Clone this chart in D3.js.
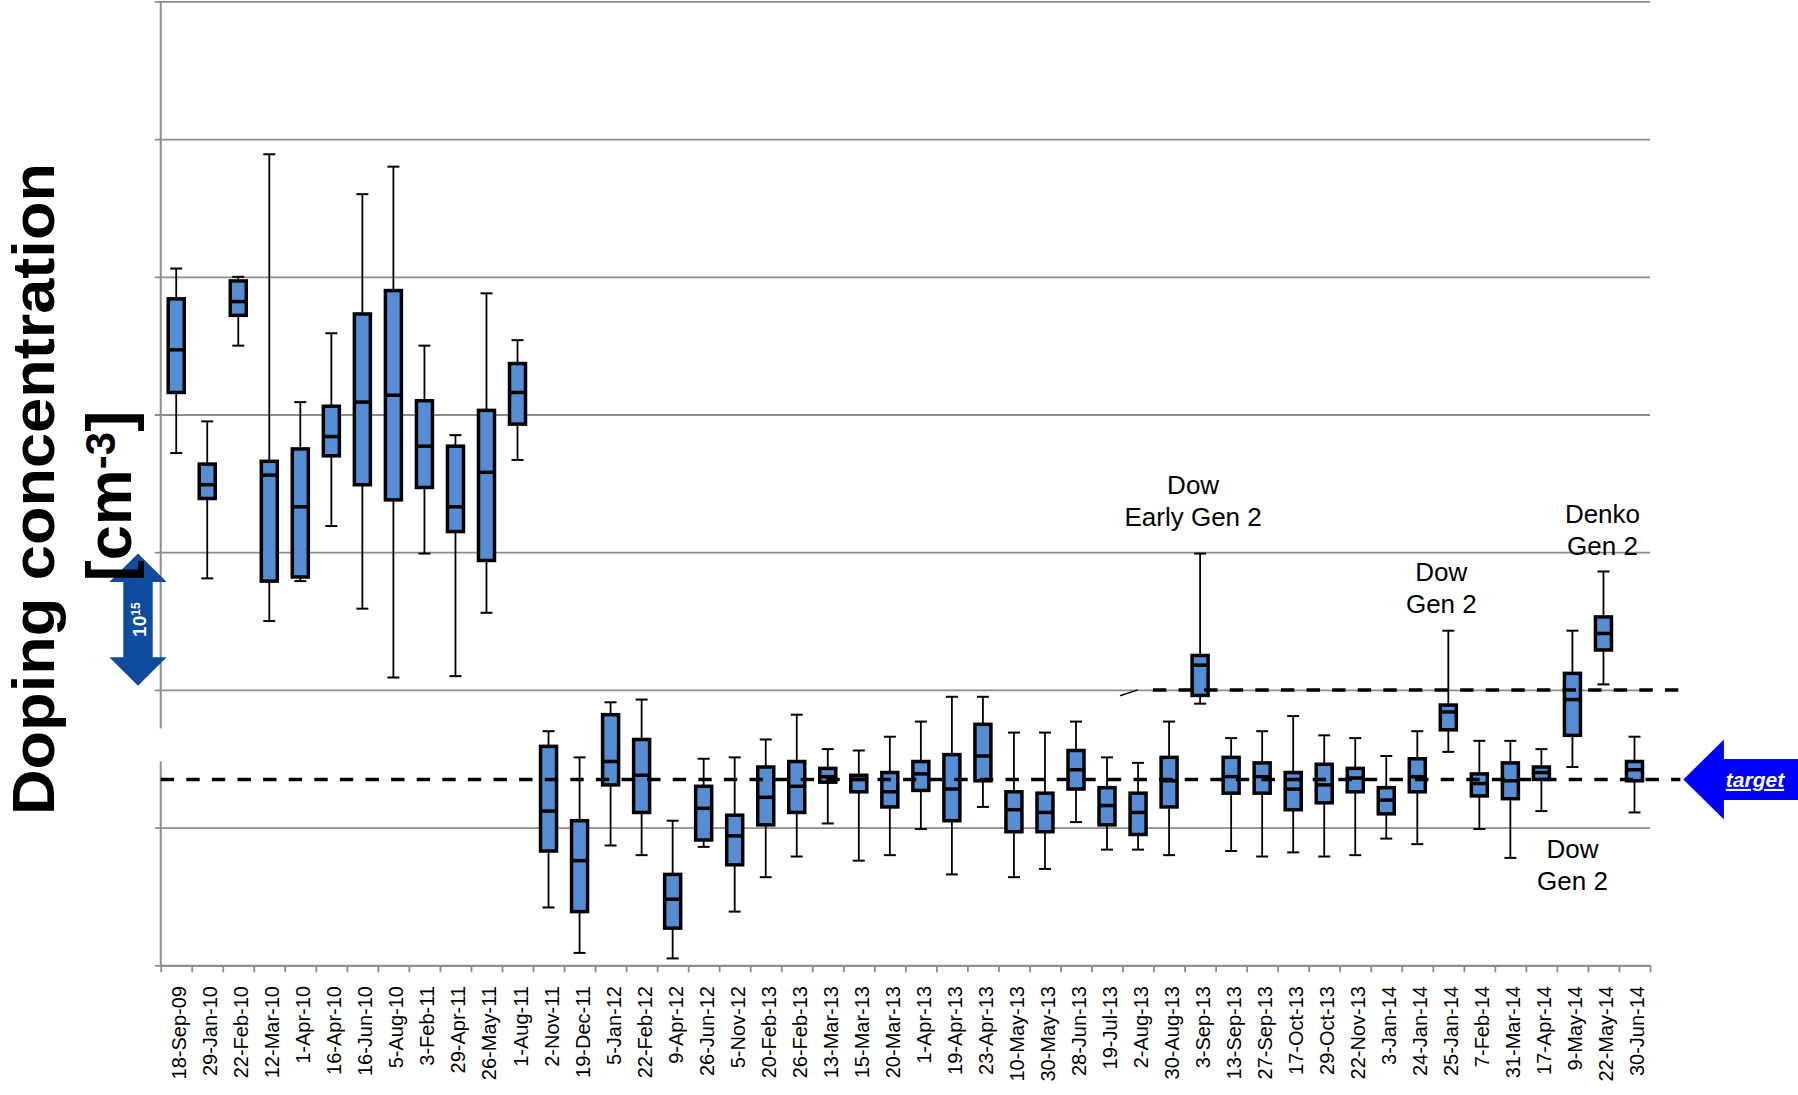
<!DOCTYPE html>
<html>
<head>
<meta charset="utf-8">
<script src="https://cdn.jsdelivr.net/npm/d3@7"></script>
<style>
  body { margin: 0; background: #fff; }
  svg { display: block; }
  text { font-family: "Liberation Sans", Arial, sans-serif; }
</style>
</head>
<body>
<svg id="chart" width="1798" height="1095"></svg>
<script>
// Sampling dates (one box per batch)
const categories = [
  "18-Sep-09","29-Jan-10","22-Feb-10","12-Mar-10","1-Apr-10","16-Apr-10","16-Jun-10","5-Aug-10",
  "3-Feb-11","29-Apr-11","26-May-11","1-Aug-11","2-Nov-11","19-Dec-11","5-Jan-12","22-Feb-12",
  "9-Apr-12","26-Jun-12","5-Nov-12","20-Feb-13","26-Feb-13","13-Mar-13","15-Mar-13","20-Mar-13",
  "1-Apr-13","19-Apr-13","23-Apr-13","10-May-13","30-May-13","28-Jun-13","19-Jul-13","2-Aug-13",
  "30-Aug-13","3-Sep-13","13-Sep-13","27-Sep-13","17-Oct-13","29-Oct-13","22-Nov-13","3-Jan-14",
  "24-Jan-14","25-Jan-14","7-Feb-14","31-Mar-14","17-Apr-14","9-May-14","22-May-14","30-Jun-14"
];

// Box-plot statistics, in units of 1e15 cm^-3 above the axis origin
const whiskerLow = [
  3.72,2.81,4.50,2.50,2.79,3.19,2.59,2.09,
  2.99,2.10,2.56,3.67,0.42,0.09,0.87,0.80,
  0.05,0.86,0.39,0.64,0.79,1.03,0.76,0.80,
  0.99,0.66,1.15,0.64,0.70,1.04,0.84,0.84,
  0.80,1.90,0.83,0.79,0.82,0.79,0.80,0.92,
  0.88,1.55,0.99,0.78,1.12,1.44,2.04,1.11
];
const quartile1 = [
  4.16,3.39,4.72,2.79,2.82,3.70,3.49,3.38,
  3.47,3.15,2.94,3.93,0.83,0.39,1.31,1.11,
  0.27,0.91,0.73,1.02,1.11,1.33,1.26,1.15,
  1.27,1.05,1.34,0.97,0.97,1.28,1.02,0.95,
  1.15,1.96,1.25,1.25,1.13,1.18,1.26,1.10,
  1.26,1.71,1.23,1.21,1.35,1.67,2.29,1.34
];
const medians = [
  4.47,3.49,4.82,3.56,3.33,3.84,4.09,4.14,
  3.77,3.33,3.58,4.16,1.12,0.76,1.48,1.38,
  0.48,1.14,0.94,1.22,1.30,1.37,1.35,1.26,
  1.39,1.28,1.52,1.13,1.11,1.42,1.16,1.11,
  1.34,2.18,1.37,1.37,1.28,1.31,1.36,1.20,
  1.37,1.84,1.32,1.34,1.40,1.93,2.41,1.42
];
const quartile3 = [
  4.84,3.64,4.97,3.66,3.75,4.06,4.73,4.90,
  4.10,3.77,4.03,4.37,1.59,1.05,1.82,1.64,
  0.66,1.30,1.09,1.44,1.48,1.43,1.38,1.40,
  1.48,1.53,1.75,1.26,1.25,1.56,1.29,1.25,
  1.51,2.25,1.51,1.47,1.40,1.46,1.43,1.29,
  1.50,1.89,1.39,1.47,1.44,2.12,2.53,1.48
];
const whiskerHigh = [
  5.06,3.95,5.00,5.89,4.09,4.59,5.60,5.80,
  4.50,3.85,4.88,4.54,1.70,1.51,1.91,1.93,
  1.05,1.50,1.51,1.64,1.82,1.57,1.56,1.66,
  1.77,1.95,1.95,1.69,1.69,1.77,1.51,1.47,
  1.77,2.99,1.65,1.70,1.81,1.67,1.65,1.52,
  1.70,2.43,1.63,1.63,1.57,2.43,2.86,1.66
];

// Reference levels
const gridValues = [0, 1, 2, 3, 4, 5, 6, 7];
const targetLevel = 1.35;
const gen2Level = 2.0;
const axisBreak = [1.48, 1.72];          // gap in the value axis
const decadeSpan = [2.03, 2.99];         // double arrow marking 1e15
// reference lines, x given in category-slot units
const targetLineX = [0, 48.98];
const gen2LeadIn = [[30.92, 1.957], [31.49, 2.0]];
const gen2LineX = [31.98, 48.93];

// Vendor notes: category, baseline value of first line, text lines
const annotations = [
  { cat: "3-Sep-13",  at: 3.42, dx: -7, lines: ["Dow", "Early Gen 2"] },
  { cat: "25-Jan-14", at: 2.79, dx: -7, lines: ["Dow", "Gen 2"] },
  { cat: "22-May-14", at: 3.21, dx: -1, lines: ["Denko", "Gen 2"] },
  { cat: "9-May-14",  at: 0.78, dx: 0,  lines: ["Dow", "Gen 2"] }
];

const svg = d3.select("#chart");
const plot = { left: 160.7, right: 1650, top: 1.4, bottom: 965.3 };

const x = d3.scaleBand().domain(categories).range([plot.left, plot.right]).padding(0);
const slot = d3.scaleLinear().domain([0, categories.length]).range([plot.left, plot.right]);
const y = d3.scaleLinear().domain([0, 7]).range([plot.bottom, plot.top]);

const gridColor = "#8c8c8c";
const boxFill = "#558ED5";

// Horizontal gridlines with short outer ticks
const gGrid = svg.append("g")
  .attr("transform", `translate(${plot.left},0)`)
  .call(d3.axisLeft(y).tickValues(gridValues).tickSize(-(plot.right - plot.left)).tickFormat(""));
gGrid.select(".domain").remove();
gGrid.selectAll(".tick line")
  .attr("x1", -6)
  .attr("stroke", gridColor)
  .attr("stroke-width", 1.8);

// Value axis line, broken around the target region
const axisSegments = [[7, axisBreak[1]], [axisBreak[0], 0]];
svg.append("g").selectAll("line").data(axisSegments).join("line")
  .attr("x1", plot.left).attr("x2", plot.left)
  .attr("y1", d => y(d[0])).attr("y2", d => y(d[1]))
  .attr("stroke", gridColor).attr("stroke-width", 2);

// Category axis: boundary ticks
const gTicks = svg.append("g")
  .attr("transform", `translate(0,${plot.bottom})`)
  .call(d3.axisBottom(slot).tickValues(d3.range(0, categories.length + 1)).tickSize(7).tickSizeOuter(0).tickFormat(""));
gTicks.select(".domain").attr("stroke", gridColor).attr("stroke-width", 2);
gTicks.selectAll(".tick line").attr("stroke", gridColor).attr("stroke-width", 1.8);

// Category axis: rotated date labels
const gLabels = svg.append("g")
  .attr("transform", `translate(0,${plot.bottom})`)
  .call(d3.axisBottom(x).tickSize(0));
gLabels.select(".domain").remove();
gLabels.selectAll(".tick text")
  .attr("x", 0).attr("y", 0).attr("dy", "0.35em")
  .attr("transform", "translate(3,20.7) rotate(-90)")
  .attr("text-anchor", "end")
  .attr("fill", "#000")
  .style("font-family", "'Liberation Sans', Arial, sans-serif")
  .style("font-size", "20px");

// Box plots
const stats = categories.map((c, i) => ({
  cat: c, lo: whiskerLow[i], q1: quartile1[i], med: medians[i], q3: quartile3[i], hi: whiskerHigh[i]
}));
const boxW = 16, capW = 12;
const boxes = svg.append("g").selectAll("g").data(stats).join("g")
  .attr("transform", d => `translate(${x(d.cat) + x.bandwidth() / 2},0)`);
boxes.append("line")
  .attr("y1", d => y(d.hi)).attr("y2", d => y(d.lo))
  .attr("stroke", "#000").attr("stroke-width", 1.8);
boxes.selectAll("line.cap").data(d => [d.hi, d.lo]).join("line")
  .attr("class", "cap")
  .attr("x1", -capW / 2).attr("x2", capW / 2)
  .attr("y1", v => y(v)).attr("y2", v => y(v))
  .attr("stroke", "#000").attr("stroke-width", 2);
boxes.append("rect")
  .attr("x", -boxW / 2).attr("width", boxW)
  .attr("y", d => y(d.q3)).attr("height", d => y(d.q1) - y(d.q3))
  .attr("fill", boxFill).attr("stroke", "#000").attr("stroke-width", 3.5);
boxes.append("line")
  .attr("x1", -boxW / 2).attr("x2", boxW / 2)
  .attr("y1", d => y(d.med)).attr("y2", d => y(d.med))
  .attr("stroke", "#000").attr("stroke-width", 3.5);

// Target and Gen 2 reference lines
const dash = "13.4 12.2";
svg.append("line")
  .attr("x1", slot(targetLineX[0])).attr("x2", slot(targetLineX[1]))
  .attr("y1", y(targetLevel)).attr("y2", y(targetLevel))
  .attr("stroke", "#000").attr("stroke-width", 3.5).attr("stroke-dasharray", dash);
svg.append("path")
  .attr("d", d3.line().x(d => slot(d[0])).y(d => y(d[1]))(gen2LeadIn))
  .attr("fill", "none").attr("stroke", "#000").attr("stroke-width", 1.5);
svg.append("line")
  .attr("x1", slot(gen2LineX[0])).attr("x2", slot(gen2LineX[1]))
  .attr("y1", y(gen2Level)).attr("y2", y(gen2Level))
  .attr("stroke", "#000").attr("stroke-width", 3.5).attr("stroke-dasharray", dash);

// "target" arrow
const ty = y(targetLevel);
const tipX = slot(targetLineX[1]) + 3;
const arrowPts = [
  [tipX, ty], [tipX + 40.5, ty - 40], [tipX + 40.5, ty - 20.5], [1798, ty - 20.5],
  [1798, ty + 20.5], [tipX + 40.5, ty + 20.5], [tipX + 40.5, ty + 40]
];
svg.append("polygon").attr("points", arrowPts.map(p => p.join(",")).join(" ")).attr("fill", "#0000FF");
svg.append("text")
  .attr("x", 1755).attr("y", ty + 7.5)
  .attr("text-anchor", "middle")
  .attr("fill", "#fff")
  .style("font-size", "21px").style("font-weight", "bold").style("font-style", "italic")
  .style("text-decoration", "underline")
  .text("target");

// Double arrow indicating a 1e15 step
const ax = 138, yTop = y(decadeSpan[1]), yBot = y(decadeSpan[0]);
const hw = 28.7, sw = 14.7, hh = 28.4;
const dbl = [
  [ax, yTop], [ax + hw, yTop + hh], [ax + sw, yTop + hh], [ax + sw, yBot - hh], [ax + hw, yBot - hh],
  [ax, yBot], [ax - hw, yBot - hh], [ax - sw, yBot - hh], [ax - sw, yTop + hh], [ax - hw, yTop + hh]
];
svg.append("polygon").attr("points", dbl.map(p => p.join(",")).join(" ")).attr("fill", "#0F4C9E");
const powText = svg.append("text")
  .attr("transform", `translate(${ax + 8},${(yTop + yBot) / 2}) rotate(-90)`)
  .attr("text-anchor", "middle")
  .attr("fill", "#fff")
  .style("font-weight", "bold").style("font-size", "19px");
powText.append("tspan").text("10");
powText.append("tspan").attr("dy", -6).style("font-size", "12px").text("15");

// Axis title
svg.append("text")
  .attr("transform", "translate(54,489) rotate(-90)")
  .attr("text-anchor", "middle")
  .attr("textLength", 652)
  .attr("lengthAdjust", "spacingAndGlyphs")
  .style("font-weight", "bold").style("font-size", "59px")
  .text("Doping concentration");
const unit = svg.append("text")
  .attr("transform", "translate(131,496) rotate(-90)")
  .attr("text-anchor", "middle")
  .style("font-weight", "bold").style("font-size", "63px");
unit.append("tspan").text("[cm");
unit.append("tspan").attr("dy", -16).style("font-size", "42px").text("-3");
unit.append("tspan").attr("dy", 16).text("]");

// Vendor annotations
const notes = svg.append("g").selectAll("text").data(annotations).join("text")
  .attr("text-anchor", "middle")
  .style("font-size", "26px")
  .attr("transform", d => `translate(${x(d.cat) + x.bandwidth() / 2 + d.dx},${y(d.at)})`);
notes.selectAll("tspan").data(d => d.lines).join("tspan")
  .attr("x", 0)
  .attr("dy", (l, i) => i === 0 ? 0 : 32)
  .text(l => l);
</script>
</body>
</html>
